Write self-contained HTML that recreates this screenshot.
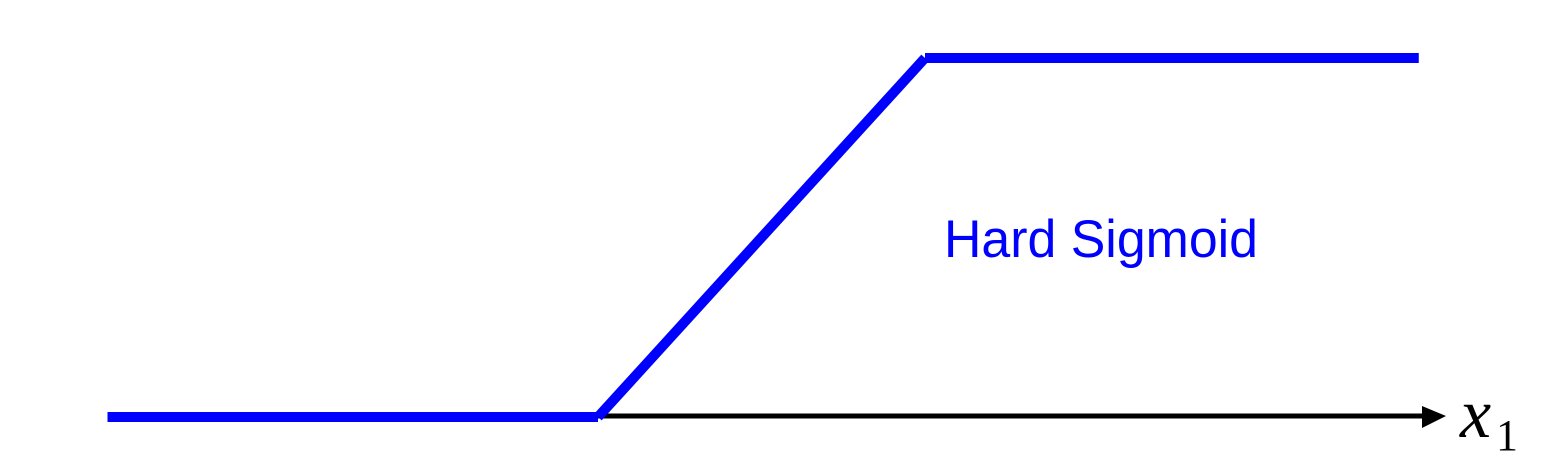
<!DOCTYPE html>
<html><head><meta charset="utf-8"><style>html,body{margin:0;padding:0;background:#fff;}svg{display:block;}</style></head>
<body>
<svg width="1546" height="461" viewBox="0 0 1546 461">
<g id="marks"></g>
<text x="944" y="257" font-family="Liberation Sans, sans-serif" font-size="53" fill="#0000ff" textLength="314" lengthAdjust="spacingAndGlyphs">Hard Sigmoid</text>
<text x="1460" y="437" font-family="Liberation Serif, serif" font-style="italic" font-size="70" fill="#000">x</text>
<text x="1496" y="450" font-family="Liberation Serif, serif" font-size="44" fill="#000">1</text>
</svg>
<script>
// data: piecewise function points (x in data units, y in data units)
const xs = [-3, 0, 2, 5.02];
const ys = [0, 0, 1, 1];
const axisStart = 0, axisEnd = 5;
function sx(v){ return 598 + v * (925 - 598) / 2; }
function sy(v){ return 417 - v * (417 - 58); }
const NS = 'http://www.w3.org/2000/svg';
const g = document.getElementById('marks');
const axis = document.createElementNS(NS,'line');
axis.setAttribute('x1', sx(axisStart)); axis.setAttribute('x2', 1424);
axis.setAttribute('y1', 416); axis.setAttribute('y2', 416);
axis.setAttribute('stroke', '#000'); axis.setAttribute('stroke-width', '5');


g.appendChild(axis);
const head = document.createElementNS(NS,'polygon');
head.setAttribute('points', '1422,406 1446,416 1422,428');
head.setAttribute('fill', '#000');


g.appendChild(head);
for (let i = 0; i < xs.length - 1; i++) {
  const l = document.createElementNS(NS,'line');
  l.setAttribute('x1', sx(xs[i])); l.setAttribute('y1', sy(ys[i]));
  l.setAttribute('x2', sx(xs[i+1])); l.setAttribute('y2', sy(ys[i+1]));
  l.setAttribute('stroke', '#0000ff'); l.setAttribute('stroke-width', '10');
  
  
  g.appendChild(l);
}
</script>
</body></html>
